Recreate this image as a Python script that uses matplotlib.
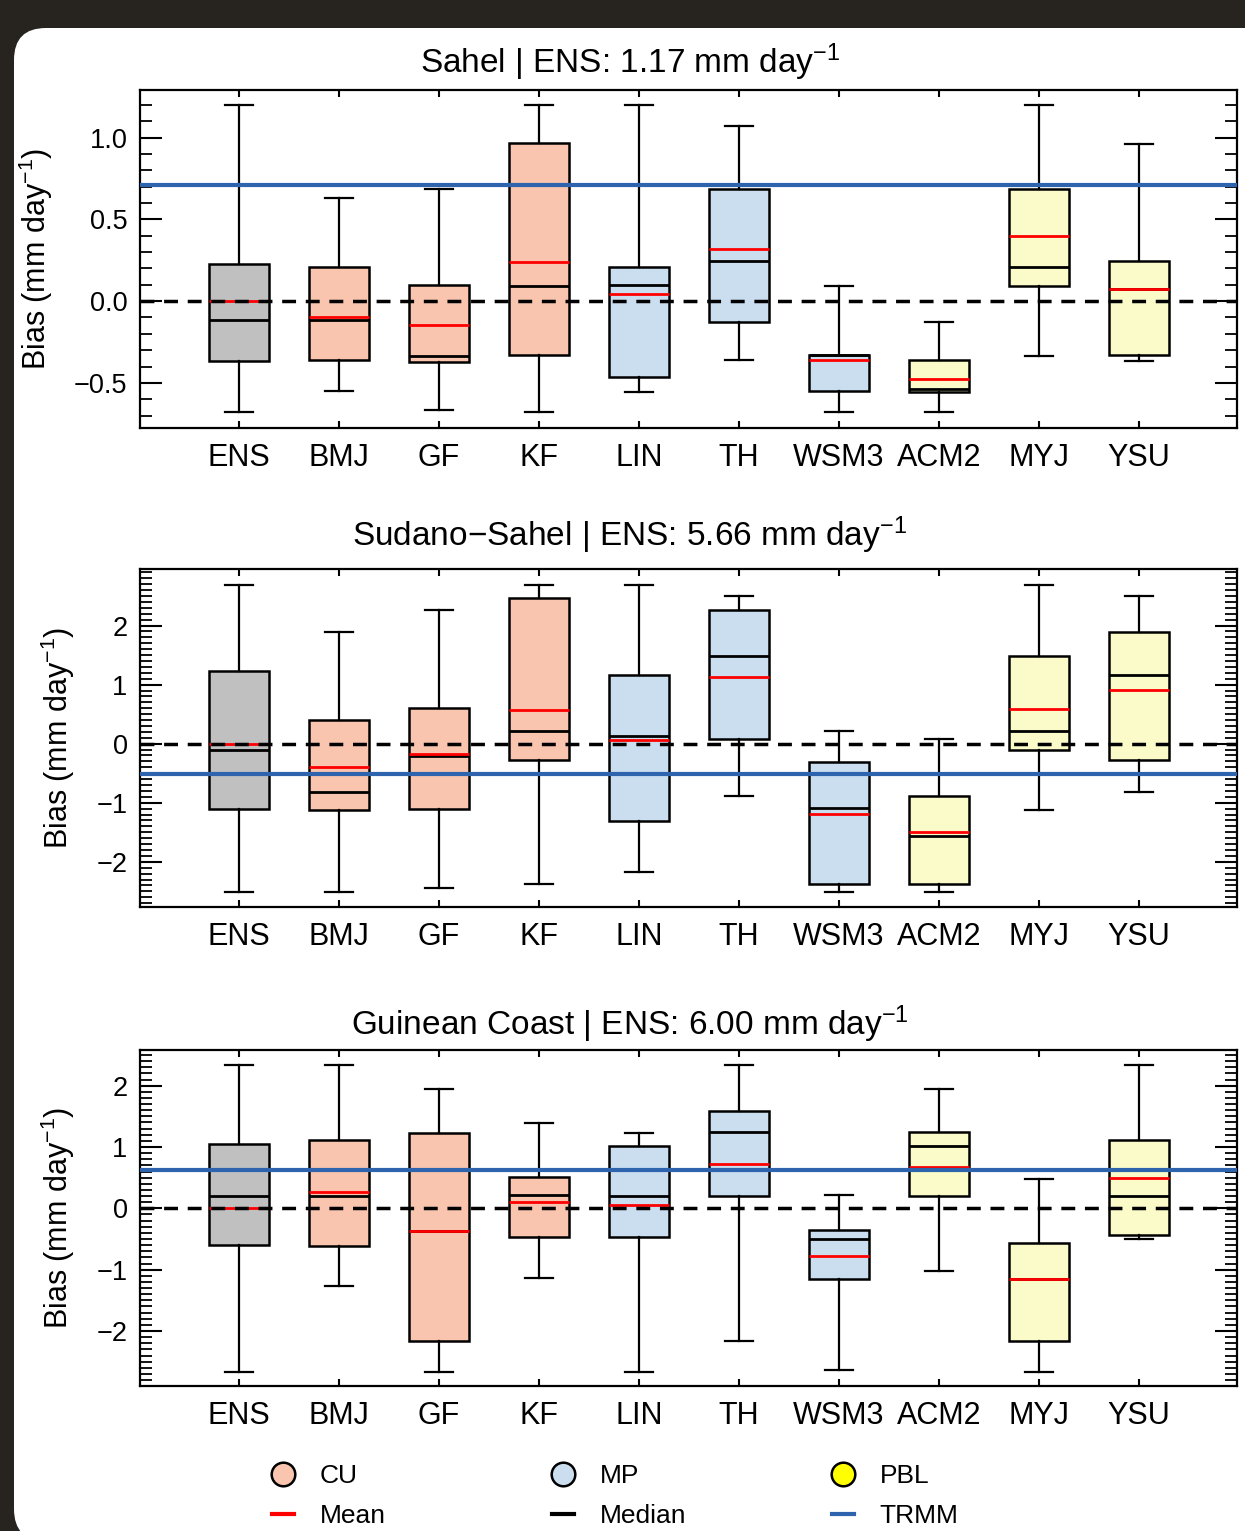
import matplotlib
matplotlib.use('Agg')
import matplotlib.pyplot as plt
from matplotlib.patches import FancyBboxPatch
from matplotlib.lines import Line2D
from matplotlib.ticker import MultipleLocator
from matplotlib.transforms import IdentityTransform

plt.rcParams['font.family'] = ['Liberation Sans', 'DejaVu Sans']
plt.rcParams['mathtext.fontset'] = 'custom'
plt.rcParams['mathtext.rm'] = 'Liberation Sans'
plt.rcParams['mathtext.default'] = 'regular'

# schemes / groups
schemes = ['ENS', 'BMJ', 'GF', 'KF', 'LIN', 'TH', 'WSM3', 'ACM2', 'MYJ', 'YSU']
groups = ['ENS', 'CU', 'CU', 'CU', 'MP', 'MP', 'MP', 'PBL', 'PBL', 'PBL']

# Sahel
sahel_whislo = [-0.68, -0.55, -0.664, -0.68, -0.558, -0.358, -0.68, -0.68, -0.338, -0.369]
sahel_q1 = [-0.365, -0.358, -0.371, -0.328, -0.466, -0.128, -0.552, -0.558, 0.090, -0.330]
sahel_med = [-0.118, -0.118, -0.338, 0.090, 0.096, 0.244, -0.33, -0.538, 0.21, 0.071]
sahel_q3 = [0.228, 0.21, 0.096, 0.965, 0.21, 0.688, -0.328, -0.358, 0.688, 0.244]
sahel_whishi = [1.198, 0.633, 0.688, 1.198, 1.198, 1.069, 0.090, -0.128, 1.198, 0.963]
sahel_mean = [0.0, -0.096, -0.149, 0.240, 0.041, 0.318, -0.358, -0.477, 0.401, 0.071]

# Sudano-Sahel
sudano_whislo = [-2.511, -2.511, -2.444, -2.381, -2.173, -0.886, -2.511, -2.511, -1.123, -0.818]
sudano_q1 = [-1.112, -1.123, -1.106, -0.282, -1.304, 0.073, -2.376, -2.376, -0.113, -0.282]
sudano_med = [-0.113, -0.818, -0.214, 0.220, 0.135, 1.490, -1.089, -1.558, 0.220, 1.168]
sudano_q3 = [1.230, 0.401, 0.604, 2.472, 1.168, 2.263, -0.305, -0.886, 1.490, 1.890]
sudano_whishi = [2.686, 1.890, 2.263, 2.686, 2.686, 2.5, 0.220, 0.073, 2.686, 2.5]
sudano_mean = [0.0, -0.401, -0.175, 0.576, 0.068, 1.134, -1.191, -1.495, 0.587, 0.903]

# Guinean Coast
guinea_whislo = [-2.664, -1.269, -2.664, -1.142, -2.664, -2.162, -2.642, -1.020, -2.664, -0.507]
guinea_q1 = [-0.590, -0.618, -2.162, -0.469, -0.469, 0.193, -1.147, 0.193, -2.162, -0.441]
guinea_med = [0.193, 0.193, -0.375, 0.210, 0.193, 1.241, -0.507, 1.020, -1.153, 0.193]
guinea_q3 = [1.053, 1.109, 1.224, 0.507, 1.009, 1.583, -0.359, 1.241, -0.568, 1.109]
guinea_whishi = [2.344, 2.344, 1.947, 1.395, 1.224, 2.344, 0.210, 1.947, 0.485, 2.344]
guinea_mean = [0.0, 0.259, -0.375, 0.105, 0.055, 0.717, -0.772, 0.667, -1.153, 0.491]

regions = ['Sahel', 'Sudano\u2212Sahel', 'Guinean Coast']
ens_mean = ['1.17', '5.66', '6.00']
trmm_bias = [0.707, -0.508, 0.618]

colors = {'ENS': '#c0c0c0', 'CU': '#f9c5ae', 'MP': '#cadef0', 'PBL': '#fafbc9'}

W, H = 1245, 1531
fig = plt.figure(figsize=(W / 100, H / 100), dpi=100, facecolor='#27241f')

# white card behind everything
card = FancyBboxPatch((14, -10), W + 20, H - 28 + 10,
                      boxstyle='round,pad=0,rounding_size=32',
                      transform=IdentityTransform(), facecolor='white',
                      edgecolor='none', zorder=-10)
fig.patches.append(card)


def rect(l, t, r, b):
    return [l / W, 1 - b / H, (r - l) / W, (b - t) / H]


panels = [
    (rect(140, 90, 1237, 428), 73, (-0.776, 1.291), 0.5,
     [sahel_whislo, sahel_q1, sahel_med, sahel_q3, sahel_whishi, sahel_mean]),
    (rect(140, 569, 1237, 907), 546, (-2.765, 2.957), 1.0,
     [sudano_whislo, sudano_q1, sudano_med, sudano_q3, sudano_whishi, sudano_mean]),
    (rect(140, 1050, 1237, 1386), 1035, (-2.896, 2.581), 1.0,
     [guinea_whislo, guinea_q1, guinea_med, guinea_q3, guinea_whishi, guinea_mean]),
]

for i, (r, title_y, ylim, major, d) in enumerate(panels):
    ax = fig.add_axes(r)
    stats = []
    for k in range(len(schemes)):
        stats.append(dict(whislo=d[0][k], q1=d[1][k], med=d[2][k], q3=d[3][k],
                          whishi=d[4][k], mean=d[5][k], fliers=[]))
    bp = ax.bxp(stats, positions=range(1, 11), widths=0.6, capwidths=0.28,
                patch_artist=True, showmeans=True, meanline=True, showfliers=False,
                boxprops=dict(edgecolor='black', lw=1.8),
                whiskerprops=dict(color='black', lw=1.6),
                capprops=dict(color='black', lw=1.6),
                medianprops=dict(color='black', lw=2),
                meanprops=dict(color='red', ls='-', lw=2))
    for patch, g in zip(bp['boxes'], groups):
        patch.set_facecolor(colors[g])

    ax.axhline(trmm_bias[i], color='#2e63ad', lw=3, zorder=4)
    ax.axhline(0, color='black', ls=(0, (4, 2.8)), lw=2.5, zorder=5)

    ax.set_xlim(0.01, 10.98)
    ax.set_ylim(*ylim)
    ax.set_xticks(range(1, 11))
    ax.set_xticklabels(schemes, fontsize=22)
    ax.yaxis.set_major_locator(MultipleLocator(major))
    ax.yaxis.set_minor_locator(MultipleLocator(0.1))
    ax.tick_params(axis='x', which='both', direction='in', top=True, length=5,
                   width=1.5, pad=11)
    ax.tick_params(axis='y', which='major', direction='in', right=True, length=16,
                   width=1.5, labelsize=19.5, pad=9)
    ax.tick_params(axis='y', which='minor', direction='in', right=True, length=8.5,
                   width=1.3)
    for s in ax.spines.values():
        s.set_linewidth(1.6)
    ax.set_ylabel('Bias (mm day$^{-1}$)', fontsize=22, labelpad=14)

    fig.text(630 / W, 1 - title_y / H,
             regions[i] + ' | ENS: ' + ens_mean[i] + ' mm day$^{-1}$',
             ha='center', va='baseline', fontsize=24)

# legend
def circ(c):
    return Line2D([], [], ls='none', marker='o', ms=17, mfc=c, mec='black', mew=1.8)


leg_items = [
    ([circ(colors['CU']), Line2D([], [], color='red', lw=3)], ['CU', 'Mean'], 272),
    ([circ(colors['MP']), Line2D([], [], color='black', lw=3)], ['MP', 'Median'], 552),
    ([circ('#ffff00'), Line2D([], [], color='#2e63ad', lw=3)], ['PBL', 'TRMM'], 832),
]
for handles, labels, x0 in leg_items:
    fig.legend(handles, labels, loc='upper left', bbox_to_anchor=(x0 / W, 1 - 1464 / H),
               frameon=False, fontsize=19, handlelength=0.83, handletextpad=0.98,
               borderpad=0, borderaxespad=0, labelspacing=0.6)

fig.savefig('out.png', dpi=100, facecolor=fig.get_facecolor())
